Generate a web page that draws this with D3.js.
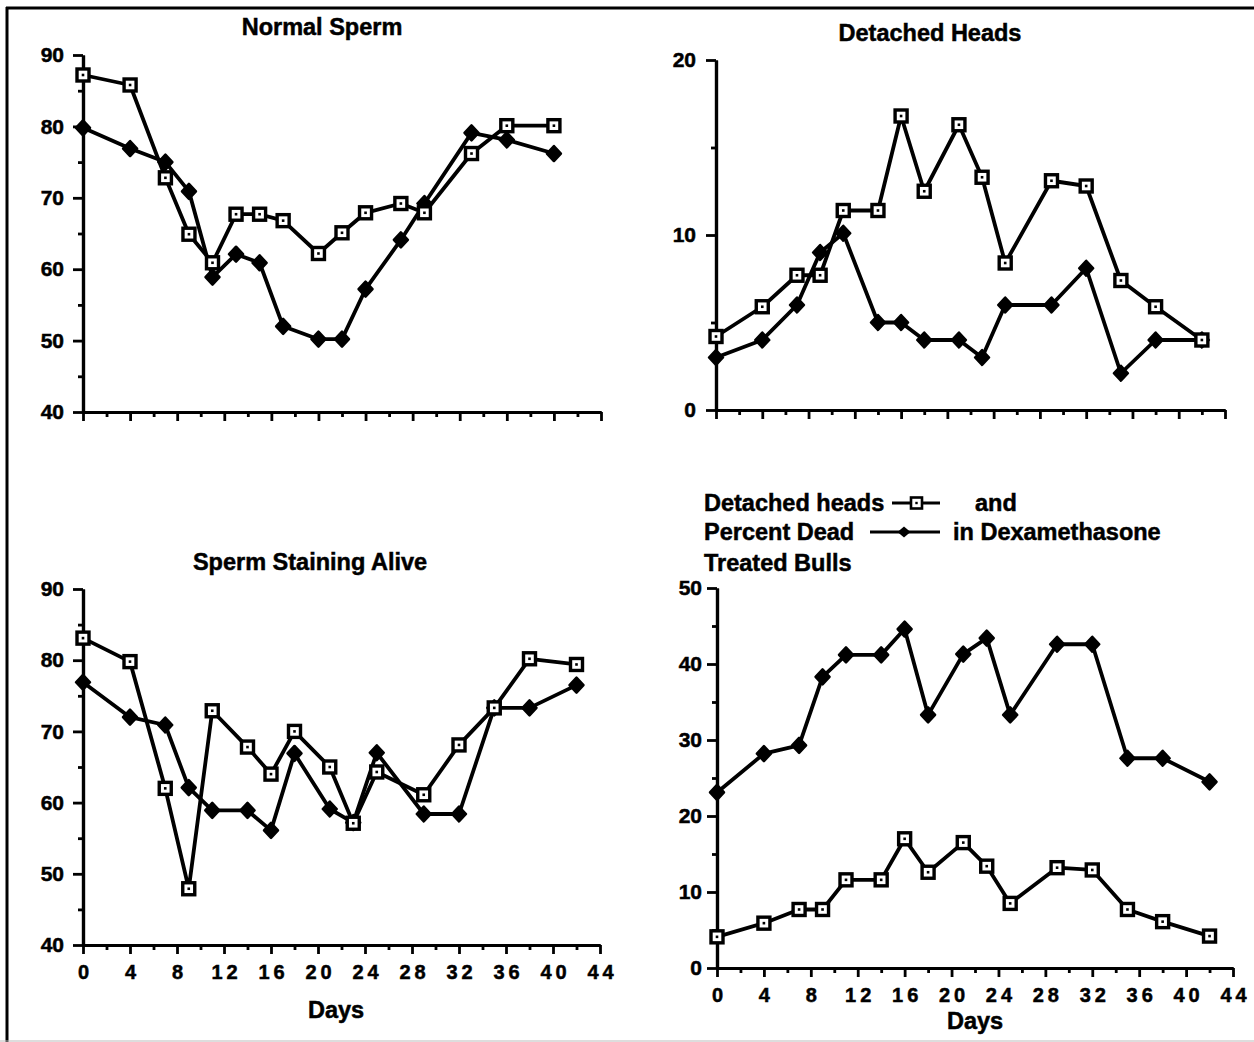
<!DOCTYPE html>
<html>
<head>
<meta charset="utf-8">
<script src="https://cdn.jsdelivr.net/npm/d3@7"></script>
<style>
  html, body { margin: 0; padding: 0; background: #fff; }
  svg { display: block; }
  text { font-family: "Liberation Sans", Arial, Helvetica, sans-serif; font-weight: bold; fill: #000; stroke: #000; stroke-width: 0.5px; }
</style>
</head>
<body>
<svg id="chart" width="1254" height="1042"></svg>
<script>
// ---------- DATA ----------
// Days sampled in the "Normal Sperm" panel
const daysNormal = [0, 4, 7, 9, 11, 13, 15, 17, 20, 22, 24, 27, 29, 33, 36, 40];
const normalSquare  = [87.2, 85.8, 72.8, 64.9, 60.9, 67.7, 67.7, 66.8, 62.2, 65.1, 67.9, 69.2, 67.9, 76.2, 80.1, 80.1];
const normalDiamond = [79.8, 76.9, 75.0, 70.9, 58.9, 62.1, 60.9, 52.0, 50.2, 50.2, 57.2, 64.1, 69.2, 79.1, 78.1, 76.2];

// Days sampled in the other three panels
const days = [0, 4, 7, 9, 11, 14, 16, 18, 21, 23, 25, 29, 32, 35, 38, 42];
const detachedSquare  = [4.2, 5.9, 7.7, 7.7, 11.4, 11.4, 16.8, 12.5, 16.3, 13.3, 8.4, 13.1, 12.8, 7.4, 5.9, 4.0];
const detachedDiamond = [3.0, 4.0, 6.0, 9.0, 10.1, 5.0, 5.0, 4.0, 4.0, 3.0, 6.0, 6.0, 8.1, 2.1, 4.0, 4.0];

const aliveSquare  = [83.1, 79.8, 62.0, 47.9, 72.9, 67.8, 64.0, 70.0, 65.0, 57.1, 64.3, 61.1, 68.1, 73.3, 80.2, 79.4];
const aliveDiamond = [76.9, 72.0, 70.9, 62.1, 58.9, 58.9, 56.1, 66.9, 59.1, 57.2, 67.0, 58.4, 58.4, 73.3, 73.3, 76.5];

const treatedSquare  = [4.1, 5.9, 7.7, 7.7, 11.6, 11.6, 17.0, 12.6, 16.5, 13.4, 8.5, 13.2, 12.9, 7.7, 6.1, 4.2];
const percentDead    = [23.1, 28.2, 29.3, 38.3, 41.2, 41.2, 44.6, 33.3, 41.3, 43.4, 33.3, 42.6, 42.6, 27.6, 27.6, 24.5];

const xTicksMajor = [0, 4, 8, 12, 16, 20, 24, 28, 32, 36, 40, 44];
const xTicksMinor = [2, 6, 10, 14, 18, 22, 26, 30, 34, 38, 42];
const xTickLabels = ["0", "4", "8", "12", "16", "20", "24", "28", "32", "36", "40", "44"];

const titles = ["Normal Sperm", "Detached Heads", "Sperm Staining Alive"];
const legendLines = ["Detached heads", "and", "Percent Dead", "in Dexamethasone", "Treated Bulls"];
const xAxisTitle = "Days";

// ---------- DRAWING ----------
const svg = d3.select("#chart");
const FONT = "'Liberation Sans', Arial, Helvetica, sans-serif";

// frame (top and left rules)
svg.append("line").attr("x1", 6).attr("x2", 1254).attr("y1", 8).attr("y2", 8)
  .attr("stroke", "#000").attr("stroke-width", 3);
svg.append("line").attr("x1", 7).attr("x2", 7).attr("y1", 7).attr("y2", 1042)
  .attr("stroke", "#000").attr("stroke-width", 3);
svg.append("line").attr("x1", 0).attr("x2", 1254).attr("y1", 1041).attr("y2", 1041)
  .attr("stroke", "#bbb").attr("stroke-width", 1);

const diamondPath = "M0,-7.5 L7,0 L0,7.5 L-7,0 Z";

function styleText(sel, size, spacing) {
  sel.style("font-size", size + "px").style("font-family", FONT).style("font-weight", "bold")
    .attr("fill", "#000").attr("stroke", "#000").attr("stroke-width", 0.5);
  if (spacing) sel.style("letter-spacing", spacing + "px");
}

function drawPanel(cfg) {
  const g = svg.append("g");
  const x = d3.scaleLinear().domain([0, 44]).range(cfg.xr);
  const y = d3.scaleLinear().domain(cfg.yd).range(cfg.yr);

  const yMinor = g.append("g").attr("transform", `translate(${cfg.xr[0]},0)`)
    .call(d3.axisLeft(y).tickValues(cfg.yMinor).tickSize(5).tickSizeOuter(0).tickFormat(""));
  const yMajor = g.append("g").attr("transform", `translate(${cfg.xr[0]},0)`)
    .call(d3.axisLeft(y).tickValues(cfg.yMajor).tickSize(10).tickSizeOuter(0).tickPadding(cfg.yPad));
  const xMinor = g.append("g").attr("transform", `translate(0,${cfg.yr[0]})`)
    .call(d3.axisBottom(x).tickValues(xTicksMinor).tickSize(5).tickSizeOuter(0).tickFormat(""));
  const xMajor = g.append("g").attr("transform", `translate(0,${cfg.yr[0]})`)
    .call(d3.axisBottom(x).tickValues(xTicksMajor).tickSize(9).tickSizeOuter(0)
      .tickPadding(11)
      .tickFormat((d, i) => cfg.xLabels ? xTickLabels[i] : ""));

  [yMinor, yMajor, xMinor, xMajor].forEach(a => {
    a.selectAll("path.domain").attr("stroke", "#000").attr("stroke-width", 3.2);
    a.selectAll(".tick line").attr("stroke", "#000").attr("stroke-width", 2.8);
  });
  styleText(yMajor.selectAll("text"), 21);
  styleText(xMajor.selectAll("text"), 20, 4);
  xMajor.selectAll("text").attr("dx", 2);

  const line = d3.line().x((d, i) => x(cfg.days[i])).y(d => y(d));

  g.append("path").datum(cfg.dia).attr("d", line)
    .attr("fill", "none").attr("stroke", "#000").attr("stroke-width", 3.8).attr("stroke-linejoin", "round");
  g.append("path").datum(cfg.sq).attr("d", line)
    .attr("fill", "none").attr("stroke", "#000").attr("stroke-width", 3.8).attr("stroke-linejoin", "round");

  g.selectAll(".dia").data(cfg.dia).enter().append("path")
    .attr("transform", (d, i) => `translate(${x(cfg.days[i])},${y(d)})`)
    .attr("d", diamondPath).attr("fill", "#000").attr("stroke", "#000")
    .attr("stroke-width", 2.5).attr("stroke-linejoin", "round");

  const sqG = g.selectAll(".sq").data(cfg.sq).enter().append("g")
    .attr("transform", (d, i) => `translate(${x(cfg.days[i])},${y(d)})`);
  sqG.append("rect").attr("x", -6).attr("y", -6).attr("width", 12).attr("height", 12)
    .attr("fill", "#fff").attr("stroke", "#000").attr("stroke-width", 3.4);
  sqG.append("rect").attr("x", -1.3).attr("y", -1.3).attr("width", 2.6).attr("height", 2.6).attr("fill", "#000");

  if (cfg.title) {
    const t = g.append("text").attr("x", cfg.title[1]).attr("y", cfg.title[2])
      .attr("text-anchor", "middle").text(cfg.title[0]);
    styleText(t, 23.5);
  }
  if (cfg.xTitle) {
    const t = g.append("text").attr("x", cfg.xTitle[0]).attr("y", cfg.xTitle[1])
      .attr("text-anchor", "middle").text(xAxisTitle);
    styleText(t, 23.5);
  }
  return { x, y };
}

drawPanel({
  xr: [83, 601], yd: [40, 90], yr: [412, 55], yPad: 9,
  yMajor: [40, 50, 60, 70, 80, 90], yMinor: [45, 55, 65, 75, 85],
  days: daysNormal, sq: normalSquare, dia: normalDiamond,
  xLabels: false, title: [titles[0], 322, 35]
});

drawPanel({
  xr: [716, 1225], yd: [0, 20], yr: [410, 60], yPad: 10,
  yMajor: [0, 10, 20], yMinor: [5, 15],
  days: days, sq: detachedSquare, dia: detachedDiamond,
  xLabels: false, title: [titles[1], 930, 41]
});

drawPanel({
  xr: [83, 600], yd: [40, 90], yr: [945, 589], yPad: 9,
  yMajor: [40, 50, 60, 70, 80, 90], yMinor: [45, 55, 65, 75, 85],
  days: days, sq: aliveSquare, dia: aliveDiamond,
  xLabels: true, title: [titles[2], 310, 570], xTitle: [336, 1018]
});

drawPanel({
  xr: [717, 1233], yd: [0, 50], yr: [968, 588], yPad: 5,
  yMajor: [0, 10, 20, 30, 40, 50], yMinor: [5, 15, 25, 35, 45],
  days: days, sq: treatedSquare, dia: percentDead,
  xLabels: true, xTitle: [975, 1029]
});

// legend / caption for the fourth panel
const lg = svg.append("g");
const lx = 704;
styleText(lg.append("text").attr("x", lx).attr("y", 511).text(legendLines[0]), 23.5);
lg.append("line").attr("x1", 892).attr("x2", 940).attr("y1", 503).attr("y2", 503)
  .attr("stroke", "#000").attr("stroke-width", 2.8);
lg.append("rect").attr("x", 911).attr("y", 497.5).attr("width", 11).attr("height", 11)
  .attr("fill", "#fff").attr("stroke", "#000").attr("stroke-width", 2.6);
lg.append("rect").attr("x", 915.3).attr("y", 501.8).attr("width", 2.4).attr("height", 2.4).attr("fill", "#000");
styleText(lg.append("text").attr("x", 975).attr("y", 511).text(legendLines[1]), 23.5);

styleText(lg.append("text").attr("x", lx).attr("y", 540).text(legendLines[2]), 23.5);
lg.append("line").attr("x1", 870).attr("x2", 940).attr("y1", 532).attr("y2", 532)
  .attr("stroke", "#000").attr("stroke-width", 2.8);
lg.append("path").attr("transform", "translate(904,532)").attr("d", "M0,-5.5 L6.5,0 L0,5.5 L-6.5,0 Z").attr("fill", "#000");
styleText(lg.append("text").attr("x", 953).attr("y", 540).text(legendLines[3]), 23.5);

styleText(lg.append("text").attr("x", lx).attr("y", 571).text(legendLines[4]), 23.5);
</script>
</body>
</html>
